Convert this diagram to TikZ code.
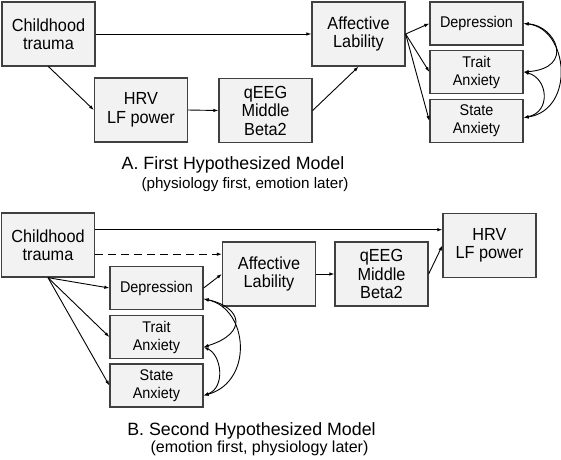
\documentclass[tikz,border=0pt]{standalone}
\usepackage{fontspec}
\setmainfont{Liberation Sans}
\newfontfamily\boxfont[FakeStretch=0.93]{Liberation Sans}
\usetikzlibrary{arrows.meta}
\definecolor{boxfill}{HTML}{F2F2F2}
\definecolor{boxdraw}{HTML}{404040}
\begin{document}
\begin{tikzpicture}[x=1pt,y=-1pt,
  box/.style={draw=boxdraw,fill=boxfill,line width=1.3pt,minimum width=93pt,minimum height=64pt,align=center,inner sep=0pt,font=\boxfont\fontsize{17.5}{18.5}\selectfont},
  sbox/.style={box,minimum height=43pt,font=\boxfont\fontsize{15.5}{18}\selectfont},
  conn/.style={line width=0.9pt,-{Latex[length=5pt,width=3.5pt]}},
  biconn/.style={line width=0.9pt,{Latex[length=5pt,width=3.5pt]}-{Latex[length=5pt,width=3.5pt]}},
  captxt/.style={anchor=base,inner sep=0pt}
]
\useasboundingbox (0,0) rectangle (561,459);
% ---------- Model A ----------
\node[box] (achild) at (48.5,34) {Childhood\\trauma};
\node[box] (ahrv) at (141,110) {HRV\\LF power};
\node[box] (aqeeg) at (265.5,110.5) {qEEG\\Middle\\Beta2};
\node[box] (aaff) at (358.5,34) {Affective\\Lability};
\node[sbox] (adep) at (476.5,23.5) {Depression};
\node[sbox] (atrait) at (476.5,72) {Trait\\Anxiety};
\node[sbox] (astate) at (476.5,121) {State\\Anxiety};
\draw[conn] (achild.east) -- (achild.east -| aaff.west);
\draw[conn] (achild.south) -- (ahrv.west);
\draw[conn] (ahrv.east) -- (aqeeg.west);
\draw[conn] (aqeeg.east) -- (aaff.south);
\draw[conn] (aaff.east) -- (adep.west);
\draw[conn] (aaff.east) -- (atrait.west);
\draw[conn] (aaff.east) -- (astate.west);
\draw[biconn] (adep.east) .. controls +(32,2) and +(52,-4) .. (atrait.east);
\draw[biconn] (adep.east) .. controls +(45,5) and +(52,-8) .. (astate.4);
\draw[biconn] (atrait.east) .. controls +(24,6) and +(28,-6) .. (astate.4);
\node[captxt,font=\fontsize{17.8}{20}\selectfont] (acap) at (233,169) {A. First Hypothesized Model};
\node[captxt,font=\fontsize{15.2}{18}\selectfont] (asub) at (245,188) {(physiology first, emotion later)};
% ---------- Model B ----------
\node[box] (bchild) at (48,245) {Childhood\\trauma};
\node[sbox] (bdep) at (156.5,288) {Depression};
\node[sbox] (btrait) at (156.5,337) {Trait\\Anxiety};
\node[sbox] (bstate) at (156.5,385.5) {State\\Anxiety};
\node[box] (baff) at (269,274) {Affective\\Lability};
\node[box] (bqeeg) at (381.5,274) {qEEG\\Middle\\Beta2};
\node[box] (bhrv) at (489.5,245.5) {HRV\\LF power};
\draw[conn] (bchild.18) -- (bchild.18 -| bhrv.west);
\draw[conn,dashed,dash pattern=on 8pt off 5pt] (bchild.-11) -- (bchild.-11 -| baff.west);
\draw[conn] (bchild.south) -- (bdep.west);
\draw[conn] (bchild.south) -- (btrait.west);
\draw[conn] (bchild.south) -- (bstate.west);
\draw[conn] (bdep.east) -- (baff.west);
\draw[conn] (baff.east) -- (bqeeg.west);
\draw[conn] (bqeeg.east) -- (bhrv.west);
\draw[biconn] (bdep.-13) .. controls +(38,8) and +(45,-14) .. (btrait.-12);
\draw[biconn] (bdep.-13) .. controls +(45,10) and +(50,-14) .. (bstate.-12);
\draw[biconn] (btrait.-12) .. controls +(18,8) and +(22,-8) .. (bstate.-12);
\node[captxt,font=\fontsize{17.8}{20}\selectfont] (bcap) at (251.5,435) {B. Second Hypothesized Model};
\node[captxt,font=\fontsize{16}{18}\selectfont] (bsub) at (259.5,452) {(emotion first, physiology later)};
\end{tikzpicture}
\end{document}
